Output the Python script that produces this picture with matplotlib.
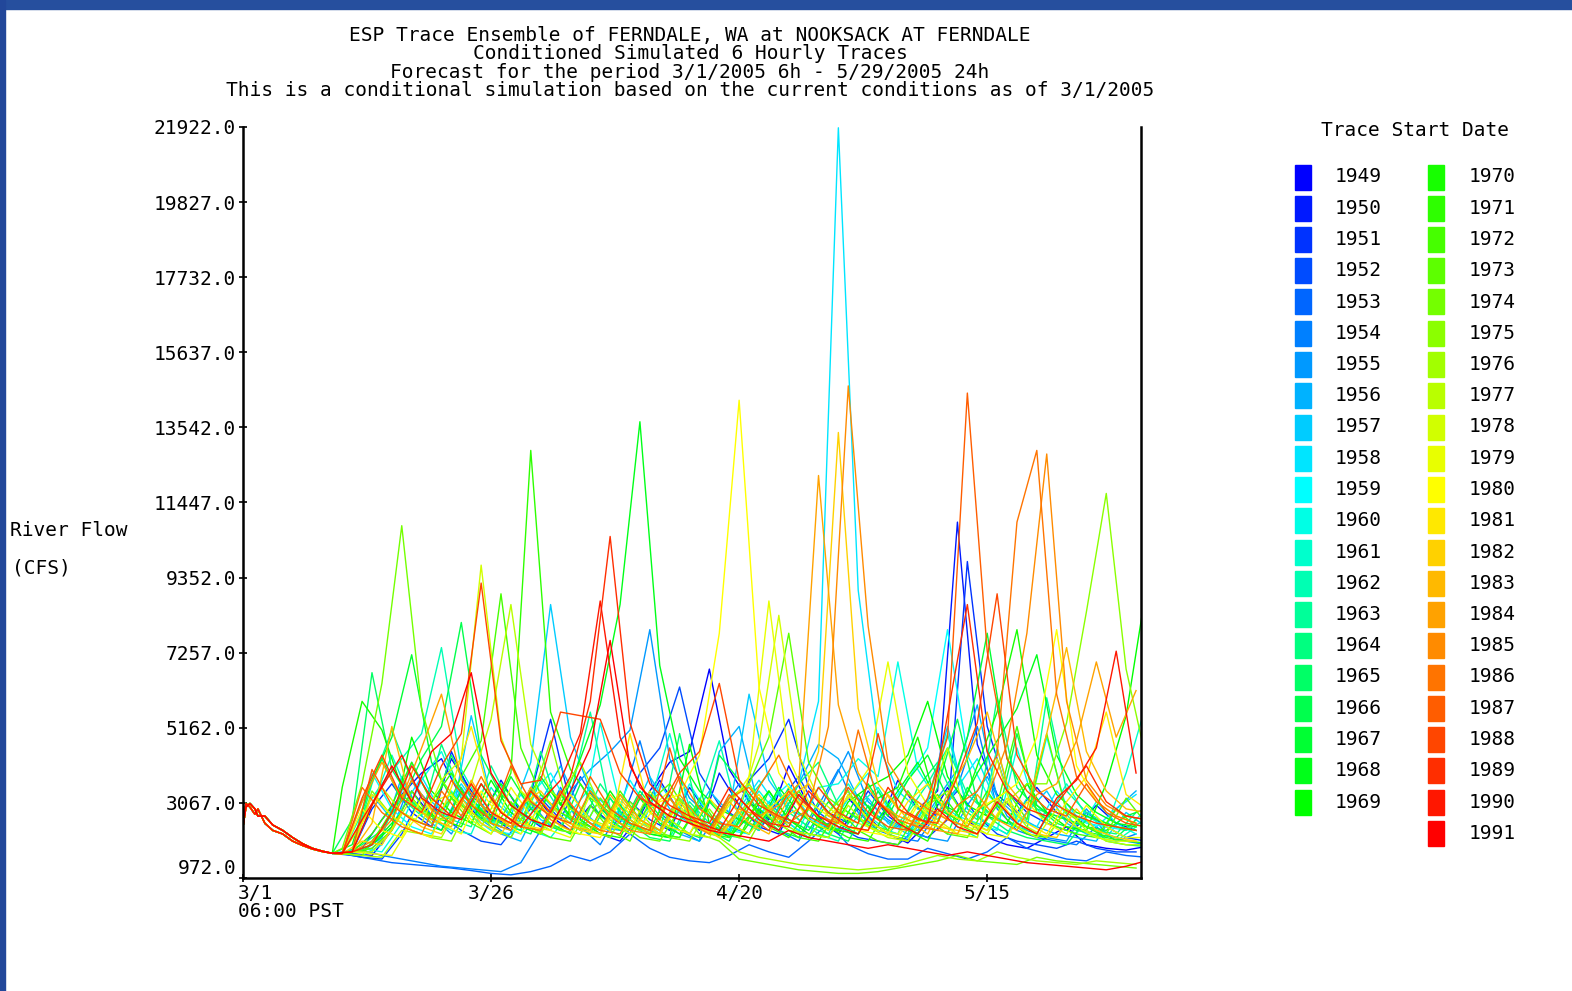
import matplotlib
matplotlib.use("Agg")
import matplotlib.pyplot as plt
from matplotlib.colors import hsv_to_rgb
from matplotlib.patches import Rectangle
from matplotlib.transforms import ScaledTranslation

plt.rcParams['font.family'] = ['DejaVu Sans Mono']

# shared start (all traces follow the current conditions for the first days)
pre_days = [0, 0.3, 0.7, 1.2, 1.5, 2.2, 3, 4, 5, 6, 7, 8, 9]
pre_flow_a = [2400, 3050, 2950, 2750, 2900, 2500, 2300, 2200, 2000, 1880, 1780, 1710, 1660]
pre_flow_b = [2400, 2950, 3050, 2900, 2700, 2700, 2450, 2300, 2100, 1930, 1800, 1720, 1660]

# simulated flow (cfs) every 2 days; even years from day 10, odd years from day 11
days_even = list(range(10, 91, 2))
days_odd = list(range(11, 92, 2))

flow_1949 = [1650, 1600, 2300, 3400, 2700, 4300, 3400, 2700, 2300, 3500,
             2700, 2300, 3000, 2500, 2200, 3400, 4200, 4500, 6800, 4000,
             3100, 2600, 4100, 3000, 2400, 3200, 2600, 2200, 1950, 2500,
             3500, 2600, 2100, 1900, 1800, 2100, 2400, 1900, 1800, 1750,
             1850]
flow_1950 = [1650, 1800, 2600, 3300, 3900, 4300, 3200, 2600, 3700, 2800,
             2400, 3400, 2600, 2200, 2000, 2700, 3700, 2800, 2300, 3900,
             3000, 2400, 2200, 3300, 2600, 2200, 3000, 2400, 3700, 2900,
             3400, 10900, 4700, 3300, 2800, 3500, 2800, 2400, 3000, 2500,
             2300]
flow_1951 = [1700, 2900, 3600, 2800, 2400, 4500, 3300, 2700, 2400, 3300,
             5400, 3000, 2500, 2300, 3100, 2600, 2300, 3500, 2700, 2300,
             3700, 4300, 5400, 3500, 2800, 2500, 3400, 2700, 2300, 2100,
             2600, 9800, 5200, 3400, 2800, 2500, 2300, 2800, 2400, 2100,
             2000]
flow_1952 = [1650, 1550, 1500, 2200, 3300, 2700, 2300, 2000, 1900, 2600,
             3200, 2600, 3800, 2900, 2500, 3900, 4600, 6300, 3900, 3000,
             2600, 2300, 3100, 3800, 2800, 2400, 2100, 2000, 1900, 2400,
             2800, 3400, 2700, 2200, 2000, 1900, 1800, 2000, 1800, 1700,
             1700]
flow_1953 = [1600, 1500, 1400, 1350, 1300, 1250, 1180, 1100, 1060, 1150,
             1300, 1600, 1450, 1700, 2200, 1800, 1550, 1450, 1400, 1600,
             1900, 1700, 1550, 2000, 2500, 1900, 1650, 1500, 1500, 1800,
             1650, 1500, 1700, 2100, 1800, 1650, 1500, 1450, 1700, 1600,
             1550]
flow_1954 = [1650, 1750, 1600, 1500, 1400, 1300, 1250, 1200, 1150, 1400,
             2300, 3500, 2400, 1900, 2900, 4800, 2800, 2300, 2000, 2800,
             3600, 2700, 2300, 2000, 3000, 4000, 2800, 2300, 2100, 2000,
             2800, 3500, 5200, 2900, 2300, 2100, 2000, 1900, 2400, 2000,
             2200]
flow_1955 = [1700, 1800, 2300, 3700, 2700, 2200, 3200, 2500, 2100, 3100,
             2400, 3400, 4000, 4500, 5100, 7900, 4300, 3200, 2700, 2400,
             2200, 3100, 2500, 2100, 3400, 4500, 3100, 2600, 2300, 2100,
             2000, 3000, 3800, 2700, 2300, 2100, 2000, 2900, 2200, 2000,
             1900]
flow_1956 = [1650, 1700, 2100, 3800, 2700, 2300, 3500, 2600, 2200, 2000,
             3100, 4100, 2900, 2400, 2300, 3300, 2600, 2200, 2000, 4500,
             5200, 2900, 2500, 3600, 4700, 4300, 3200, 2700, 2400, 2300,
             3200, 4000, 5800, 3200, 2700, 2400, 2200, 2100, 2000, 2900,
             3400]
flow_1957 = [1750, 3300, 2600, 4200, 3100, 2600, 5500, 3200, 2700, 4200,
             8600, 4900, 3400, 2900, 2600, 3800, 2900, 2500, 3400, 2800,
             6100, 3700, 2900, 2600, 2400, 2300, 3200, 2500, 2200, 3100,
             5200, 2900, 2500, 2200, 2800, 3400, 2500, 2200, 2100, 2800,
             2400]
flow_1958 = [1650, 1600, 1900, 2900, 3800, 2800, 3600, 2800, 2400, 3300,
             2600, 2300, 2200, 3200, 2600, 2300, 3600, 2800, 2400, 2200,
             2900, 3700, 2900, 3600, 5900, 21900, 9000, 4700, 3400, 2900,
             2600, 3500, 4300, 3000, 2600, 2400, 3400, 2700, 2400, 2900,
             3300]
flow_1959 = [1700, 3900, 2900, 2400, 2200, 3400, 2700, 2300, 2200, 3300,
             3900, 2900, 2500, 2300, 3700, 2800, 2400, 3600, 2700, 2300,
             2200, 3100, 3600, 2700, 2300, 3200, 3900, 2900, 3700, 4600,
             7900, 4400, 3300, 2800, 2600, 4900, 2900, 2500, 2400, 2300,
             2900]
flow_1960 = [1650, 1800, 1700, 2500, 3700, 4500, 3200, 2700, 2400, 2200,
             3300, 2700, 2300, 5300, 3000, 2500, 2300, 3200, 2600, 2200,
             2500, 3400, 2700, 2300, 3500, 3600, 4300, 3800, 7000, 4000,
             3100, 2700, 2500, 2300, 4600, 2800, 2400, 2200, 3100, 2500,
             2200]
flow_1961 = [1700, 3000, 4400, 3100, 2600, 2300, 2200, 3500, 2700, 2300,
             2100, 2800, 3500, 2600, 2200, 3000, 5000, 2900, 2400, 2200,
             3600, 2700, 2300, 2100, 2800, 3600, 2700, 2300, 2100, 3100,
             5000, 2900, 2500, 2200, 3200, 2600, 3600, 2700, 2400, 3900,
             5800]
flow_1962 = [1650, 2800, 3600, 4300, 5000, 7400, 4000, 3000, 2600, 2400,
             3700, 2800, 2400, 2200, 3300, 2600, 2200, 2100, 3100, 4800,
             2600, 2300, 3400, 2600, 2200, 2000, 3000, 3500, 2600, 2200,
             3100, 2400, 2100, 4600, 2500, 2200, 3100, 2400, 2100, 2000,
             2400]
flow_1963 = [1700, 3600, 5100, 3700, 2900, 2600, 2400, 4100, 3000, 2600,
             2300, 3300, 5600, 2900, 2500, 2200, 2100, 3100, 2500, 2200,
             3200, 3900, 2800, 2400, 2200, 3300, 2600, 2200, 2800, 3600,
             4600, 3300, 2800, 2500, 2300, 6000, 3400, 2800, 2500, 2300,
             2600]
flow_1964 = [1650, 1900, 2300, 3200, 2700, 4700, 3300, 2800, 2500, 2300,
             4500, 2700, 2300, 3600, 2800, 2400, 2200, 5000, 2600, 2200,
             2100, 3200, 2500, 3600, 4200, 3000, 2600, 2300, 2200, 3500,
             4200, 3000, 2600, 6000, 3500, 2900, 2700, 2500, 2300, 2200,
             2800]
flow_1965 = [2600, 6700, 4000, 3100, 2700, 4400, 3200, 2600, 2400, 2200,
             3500, 2600, 2200, 3200, 2500, 2100, 2000, 3000, 2300, 2000,
             3100, 2400, 3500, 2600, 2200, 2000, 3000, 2300, 3400, 2600,
             2200, 3500, 2700, 2300, 2100, 2000, 1900, 2600, 2000, 1900,
             1850]
flow_1966 = [1650, 3100, 4300, 3100, 4300, 5200, 8100, 4400, 3300, 2800,
             2500, 2300, 3600, 2700, 2300, 3400, 2700, 2300, 2100, 4400,
             3700, 2800, 2300, 2100, 3100, 2500, 2200, 3400, 2600, 2200,
             3500, 5400, 3100, 2600, 5000, 3000, 2500, 2300, 2200, 2100,
             2600]
flow_1967 = [1900, 3700, 4900, 7200, 4200, 3200, 2800, 2500, 3800, 2900,
             2500, 2200, 3400, 2600, 2200, 3300, 2600, 2200, 3100, 2500,
             2200, 3400, 2600, 2300, 3100, 2500, 3600, 2700, 3700, 4400,
             3200, 4900, 7800, 4300, 3200, 2800, 2600, 2400, 2300, 2700,
             2900]
flow_1968 = [1650, 1700, 2200, 2800, 2500, 2300, 3400, 2700, 3600, 2900,
             3800, 3000, 4300, 5800, 8600, 13700, 6900, 4300, 3400, 2900,
             2600, 2400, 3500, 2800, 2400, 2300, 3300, 2600, 3400, 4200,
             3100, 2800, 3900, 4800, 5700, 7200, 4400, 3300, 2800, 2500,
             2400]
flow_1969 = [1700, 1900, 2400, 4900, 3400, 2800, 2500, 3700, 2800, 2400,
             3400, 2700, 2300, 3400, 2600, 2200, 2100, 4700, 2500, 2100,
             2700, 3400, 2600, 2200, 2100, 3100, 3500, 3800, 4400, 5900,
             3800, 3000, 2700, 2500, 3600, 2800, 2400, 2300, 3600, 5500,
             9000]
flow_1970 = [3500, 5900, 5100, 3500, 2900, 2600, 2400, 3600, 2800, 2400,
             2200, 3300, 2600, 2200, 2100, 3200, 2500, 2200, 3000, 2400,
             2100, 2900, 2400, 3400, 2600, 2300, 2200, 3200, 3500, 4900,
             2900, 2600, 4100, 5600, 7900, 4400, 3300, 2800, 2600, 2400,
             2300]
flow_1971 = [1700, 2200, 3000, 4200, 3100, 3900, 3000, 2700, 3900, 12900,
             5600, 4000, 3200, 2800, 2500, 2300, 3400, 2600, 2200, 2100,
             3100, 2400, 2100, 2900, 2400, 2100, 2000, 2900, 2300, 2000,
             3100, 2400, 3400, 2600, 2200, 2100, 2900, 2400, 2100, 2000,
             1950]
flow_1972 = [1650, 1600, 2400, 3300, 2800, 2600, 3800, 4800, 8900, 4600,
             3300, 2800, 2500, 2300, 3400, 2600, 2200, 2100, 3200, 2400,
             2100, 3200, 2500, 2100, 2000, 2900, 2300, 2000, 1900, 2800,
             3300, 2500, 2200, 3000, 5200, 2800, 2400, 2200, 2100, 2900,
             2400]
flow_1973 = [1700, 1800, 2300, 3400, 2600, 3200, 2500, 2200, 3100, 2400,
             2100, 2000, 3000, 2300, 2000, 3100, 3600, 2700, 2300, 3200,
             3600, 4900, 7800, 4200, 3200, 2800, 2500, 2300, 3400, 2600,
             2200, 2100, 3000, 3400, 2600, 5000, 2800, 2400, 2200, 3200,
             2500]
flow_1974 = [1800, 3600, 6400, 10800, 5700, 3700, 3000, 2600, 2400, 3400,
             2700, 2300, 2200, 3200, 2500, 2100, 2000, 2900, 2200, 2000,
             1500, 1400, 1300, 1200, 1150, 1100, 1100, 1150, 1250, 1350,
             1450, 1600, 1450, 1400, 1350, 1550, 1450, 1400, 1350, 1300,
             1250]
flow_1975 = [1700, 3400, 2700, 2300, 2100, 2000, 3100, 2400, 2100, 3100,
             4800, 2700, 2300, 2100, 3100, 2500, 2100, 2000, 2900, 2200,
             2000, 3000, 2400, 2100, 2800, 3400, 2600, 2200, 2000, 3000,
             3400, 2600, 2300, 3100, 3600, 3600, 5300, 8400, 11700, 6800,
             4300]
flow_1976 = [1650, 1600, 1550, 2300, 2200, 2100, 3100, 2400, 3400, 2600,
             2200, 3200, 4200, 3000, 2500, 2300, 2200, 3200, 2500, 2100,
             1700, 1550, 1450, 1350, 1300, 1250, 1200, 1250, 1300, 1450,
             1600, 1500, 1450, 1700, 1550, 1450, 1400, 1350, 1450, 1400,
             1350]
flow_1977 = [1700, 1700, 2300, 3200, 2500, 2700, 3600, 5400, 8600, 4700,
             3400, 2900, 2600, 2400, 2300, 3400, 2600, 2200, 2100, 3100,
             3600, 2700, 2300, 2200, 2100, 3000, 2400, 2100, 2000, 2900,
             4600, 2500, 2200, 3100, 2400, 2100, 2900, 2300, 2000, 1900,
             1900]
flow_1978 = [1650, 2500, 3500, 2800, 2500, 3700, 4300, 9700, 4900, 3400,
             2900, 2600, 2400, 2200, 3300, 2600, 2200, 3100, 2500, 2100,
             2900, 4700, 8300, 4400, 3200, 2700, 2500, 2300, 2200, 3100,
             2600, 2200, 2100, 4300, 2400, 2100, 2900, 2400, 2100, 2000,
             2000]
flow_1979 = [1700, 1650, 1600, 2500, 3100, 3300, 2600, 2200, 3500, 2700,
             2300, 2100, 3300, 2500, 2200, 2900, 3400, 2600, 2200, 3000,
             3800, 8700, 4300, 3100, 2700, 3200, 4000, 7000, 3900, 3000,
             2600, 2400, 2200, 2100, 3100, 2500, 2200, 3000, 2400, 2100,
             2100]
flow_1980 = [1650, 2900, 2300, 2100, 3200, 2500, 2200, 3400, 2600, 2200,
             3000, 2400, 2200, 2100, 3100, 2400, 3100, 3300, 4400, 7800,
             14300, 6300, 3900, 3100, 2700, 2500, 2300, 2200, 2100, 3000,
             2500, 2200, 2900, 3200, 3600, 4900, 7900, 4100, 3100, 2700,
             2500]
flow_1981 = [1700, 3300, 2700, 2300, 2100, 3500, 5200, 3100, 2600, 2400,
             2300, 3300, 2600, 2300, 5000, 2800, 2400, 2200, 3200, 2500,
             2200, 2900, 3400, 2600, 2300, 3300, 2600, 2200, 3100, 3600,
             2800, 2500, 2300, 3200, 2500, 2200, 3100, 3800, 5600, 3300,
             2900]
flow_1982 = [1650, 2000, 1900, 2800, 2400, 2200, 3200, 2500, 2200, 3000,
             3400, 2700, 2300, 2200, 3200, 2500, 2200, 3100, 2400, 2100,
             2800, 3300, 2600, 2900, 4500, 13400, 5700, 3600, 2900, 2600,
             2400, 2300, 2200, 3200, 2500, 2200, 2100, 2900, 2300, 2100,
             2000]
flow_1983 = [1700, 2500, 5200, 3000, 2600, 2400, 3700, 2800, 2400, 3500,
             2800, 2400, 2300, 3300, 2600, 2200, 3200, 2500, 2200, 3100,
             2500, 2200, 3200, 3600, 2700, 2400, 2300, 3300, 2600, 2200,
             3300, 4300, 5600, 3600, 2900, 5000, 7400, 4500, 3400, 2900,
             2800]
flow_1984 = [1650, 3100, 4200, 3200, 4600, 6100, 3700, 3000, 2600, 2400,
             2300, 3400, 2700, 2300, 3300, 2600, 2300, 3300, 2600, 2200,
             2900, 2700, 3000, 3600, 12200, 5800, 3900, 3100, 2700, 2500,
             2300, 2200, 3300, 2600, 2300, 3300, 3600, 4800, 7000, 4900,
             6200]
flow_1985 = [1700, 2000, 2600, 3700, 2900, 2500, 3600, 2500, 2300, 3400,
             2600, 2300, 3400, 2700, 2300, 2200, 3200, 2500, 2200, 3200,
             3500, 2800, 2500, 2900, 5200, 14700, 8000, 4200, 3300, 2900,
             2600, 2400, 3200, 4700, 7800, 12800, 5900, 3700, 3000, 2700,
             2600]
flow_1986 = [1650, 3500, 2800, 2400, 2200, 3400, 2700, 3800, 2800, 2400,
             2300, 3400, 2700, 2300, 2200, 3300, 2600, 3800, 2900, 2500,
             2400, 3500, 4400, 3200, 2700, 2500, 5100, 3100, 2600, 2400,
             2300, 3000, 3400, 4400, 10900, 12900, 6100, 3800, 3100, 2700,
             2500]
flow_1987 = [1700, 4000, 3000, 2600, 2400, 3700, 3000, 2600, 4100, 3100,
             2700, 2500, 3800, 2900, 2500, 2300, 4600, 2700, 2300, 3300,
             2700, 2300, 3400, 2700, 2400, 3500, 2800, 2400, 2300, 3200,
             4900, 14500, 7300, 4300, 3400, 2900, 2700, 3600, 2800, 2500,
             2400]
flow_1988 = [1650, 3200, 4400, 3200, 2800, 4100, 5000, 9200, 4800, 3600,
             3700, 5600, 5500, 5400, 3900, 3200, 2900, 3900, 4500, 6400,
             3700, 3000, 2700, 2500, 3500, 2800, 2500, 5000, 2900, 2600,
             2500, 3800, 5300, 8900, 4400, 3400, 3000, 2700, 2500, 2400,
             2300]
flow_1989 = [1700, 1900, 2800, 4100, 3200, 2700, 3600, 2800, 2500, 3400,
             2800, 3800, 5900, 10500, 5300, 3600, 3000, 2700, 2500, 3500,
             2900, 2500, 2400, 3400, 2800, 2400, 2300, 3500, 2800, 2500,
             5500, 8600, 4500, 3400, 2900, 2700, 3400, 4100, 3100, 2700,
             2600]
flow_1990 = [1650, 2600, 3500, 4400, 3200, 2800, 2600, 3600, 2800, 2400,
             3100, 3700, 5000, 8700, 4900, 3500, 3000, 2700, 2500, 2300,
             3200, 2600, 2300, 3300, 2700, 2400, 2200, 3100, 2500, 2200,
             2900, 2400, 2200, 3100, 2500, 2200, 3200, 3700, 4600, 7300,
             3900]
flow_1991 = [1700, 3000, 4100, 3100, 4500, 5000, 6700, 3900, 3000, 2600,
             2400, 3400, 4600, 7600, 4100, 3100, 2700, 2500, 2300, 2200,
             2100, 2000, 2300, 2100, 2000, 1900, 1800, 1900, 1800, 1700,
             1600, 1700, 1600, 1500, 1400, 1350, 1300, 1250, 1200, 1300,
             1450]

years = list(range(1949, 1992))
traces = [flow_1949, flow_1950, flow_1951, flow_1952, flow_1953, flow_1954,
          flow_1955, flow_1956, flow_1957, flow_1958, flow_1959, flow_1960,
          flow_1961, flow_1962, flow_1963, flow_1964, flow_1965, flow_1966,
          flow_1967, flow_1968, flow_1969, flow_1970, flow_1971, flow_1972,
          flow_1973, flow_1974, flow_1975, flow_1976, flow_1977, flow_1978,
          flow_1979, flow_1980, flow_1981, flow_1982, flow_1983, flow_1984,
          flow_1985, flow_1986, flow_1987, flow_1988, flow_1989, flow_1990,
          flow_1991]

y_ticks = [972.0, 3067.0, 5162.0, 7257.0, 9352.0, 11447.0, 13542.0,
           15637.0, 17732.0, 19827.0, 21922.0]
x_ticks = [0, 25, 50, 75]
x_labels = ['3/1\n06:00 PST', '3/26', '4/20', '5/15']

title_lines = ['ESP Trace Ensemble of FERNDALE, WA at NOOKSACK AT FERNDALE',
               'Conditioned Simulated 6 Hourly Traces',
               'Forecast for the period 3/1/2005 6h - 5/29/2005 24h',
               'This is a conditional simulation based on the current conditions as of 3/1/2005']

W, H = 1572, 991
fig = plt.figure(figsize=(W / 100, H / 100), dpi=100, facecolor='white')


def fx(x):
    return x / W


def fy(y):
    return 1 - y / H


# blue page frame
fig.patches.append(Rectangle((0, fy(9)), 1, 9 / H, transform=fig.transFigure,
                             color='#264f9e', zorder=0))
fig.patches.append(Rectangle((0, 0), 5 / W, 1, transform=fig.transFigure,
                             color='#22479a', zorder=0))


# colours: blue -> green over the first 21 years, green -> red over the rest
def trace_color(i):
    if i <= 20:
        hue = 240 - 6.0 * i
    else:
        hue = 120 - (i - 20) * 120.0 / 22
    return hsv_to_rgb((hue / 360.0, 1.0, 1.0))


colors = [trace_color(i) for i in range(len(years))]

ax = fig.add_axes([fx(243), fy(878), fx(1141 - 243), (878 - 127) / H])
for i, (yr, vals) in enumerate(zip(years, traces)):
    if yr % 2 == 0:
        pre, days = pre_flow_a, days_even
    else:
        pre, days = pre_flow_b, days_odd
    ax.plot(pre_days + days, pre + vals, color=colors[i], lw=1.0)

ax.set_xlim(0, 90.5)
ax.set_ylim(972, 21922)
ax.spines['top'].set_visible(False)
for s in ['left', 'bottom', 'right']:
    ax.spines[s].set_linewidth(1.8)
ax.set_yticks(y_ticks)
ax.set_yticklabels([f'{v:.1f}' for v in y_ticks])
ax.set_xticks(x_ticks)
ax.set_xticklabels(x_labels)
ax.tick_params(axis='both', direction='inout', length=6, width=1.2,
               labelsize=14, colors='black')
ax.tick_params(axis='y', pad=2)
ax.tick_params(axis='x', pad=1)
first = ax.get_xticklabels()[0]
first.set_horizontalalignment('left')
first.set_linespacing(0.95)
first.set_transform(first.get_transform() + ScaledTranslation(-5 / 100, 0, fig.dpi_scale_trans))
ax.get_yticklabels()[0].set_verticalalignment('bottom')

# titles
for j, line in enumerate(title_lines):
    fig.text(fx(690), fy(35 + j * 18.5), line, ha='center', va='center', fontsize=14)

fig.text(fx(10), fy(531), 'River Flow', ha='left', va='center', fontsize=14)
fig.text(fx(12), fy(568), '(CFS)', ha='left', va='center', fontsize=14)

# legend of trace years
fig.text(fx(1415), fy(131), 'Trace Start Date', ha='center', va='center', fontsize=14)
for i, yr in enumerate(years):
    col = 0 if i < 21 else 1
    row = i if col == 0 else i - 21
    yc = 177 + row * 31.25
    sx = 1295 if col == 0 else 1428
    tx = 1335 if col == 0 else 1469
    fig.patches.append(Rectangle((fx(sx), fy(yc + 12.5)), 16 / W, 25 / H,
                                 transform=fig.transFigure, color=colors[i]))
    fig.text(fx(tx), fy(yc), str(yr), ha='left', va='center', fontsize=14)

fig.savefig('out.png', dpi=100, facecolor='white')
